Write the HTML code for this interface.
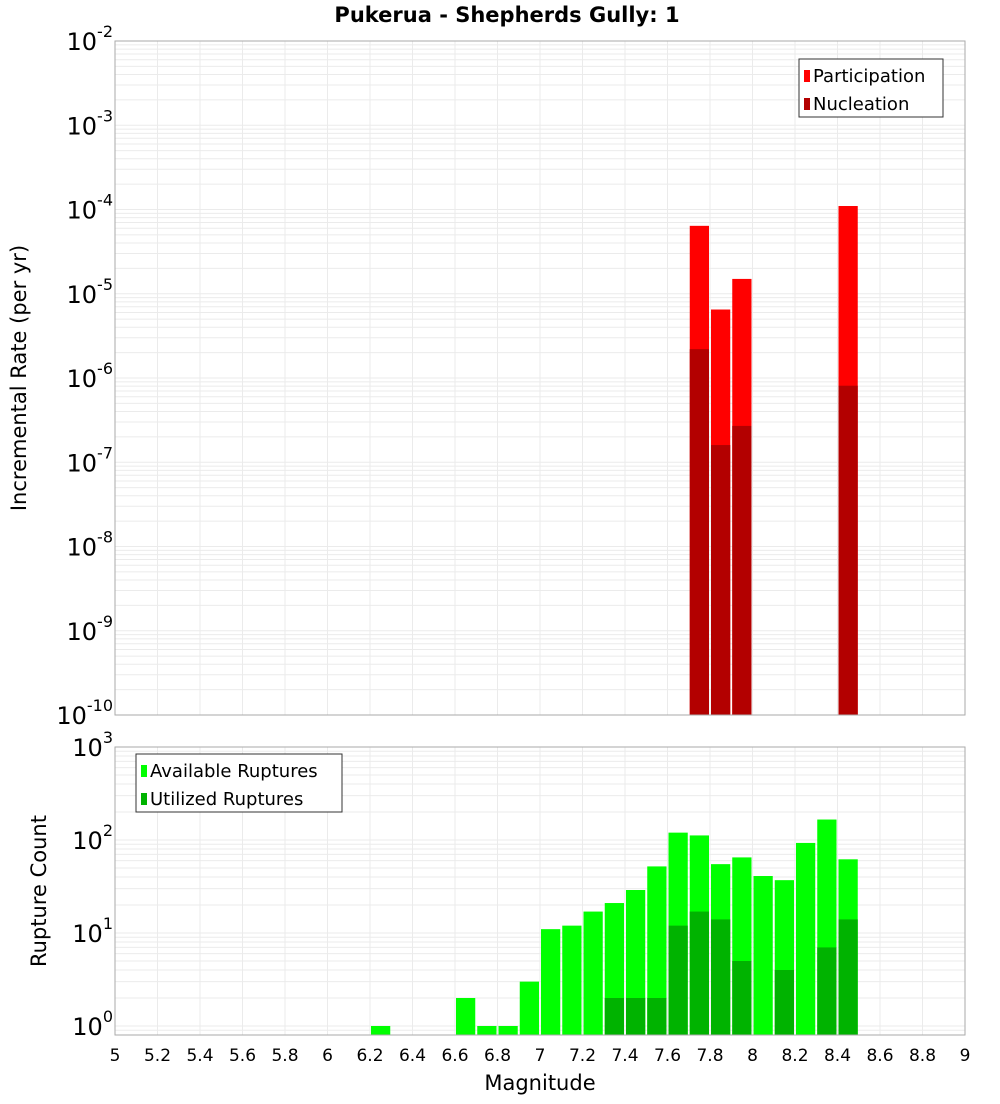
<!DOCTYPE html>
<html><head><meta charset="utf-8"><style>
body{margin:0;background:#fff;font-family:"DejaVu Sans","Liberation Sans",sans-serif}
svg text{font-family:"DejaVu Sans","Liberation Sans",sans-serif}
</style></head><body>
<svg id="c" width="1000" height="1100" xmlns="http://www.w3.org/2000/svg"></svg>
<script>
const mags=[6.2,6.3,6.4,6.5,6.6,6.7,6.8,6.9,7.0,7.1,7.2,7.3,7.4,7.5,7.6,7.7,7.8,7.9,8.0,8.1,8.2,8.3,8.4];
const topMags=[7.7,7.8,7.9,8.4];
const participation=[6.4e-5,6.5e-6,1.5e-5,1.1e-4];
const nucleation=[2.2e-6,1.6e-7,2.7e-7,8.1e-7];
const available=[1,0,0,0,2,1,1,3,11,12,17,21,29,52,120,112,55,65,41,37,93,166,62];
const utilized=[0,0,0,0,0,0,0,0,0,0,0,2,2,2,12,17,14,5,0,4,0,7,14];
const xTicks=["5","5.2","5.4","5.6","5.8","6","6.2","6.4","6.6","6.8","7","7.2","7.4","7.6","7.8","8","8.2","8.4","8.6","8.8","9"];
const topExps=[-2,-3,-4,-5,-6,-7,-8,-9,-10];
const botExps=[3,2,1,0];

const svg=document.getElementById('c');const NS='http://www.w3.org/2000/svg';
function el(t,a,p){const e=document.createElementNS(NS,t);for(const k in a)e.setAttribute(k,a[k]);(p||svg).appendChild(e);return e;}
const X0=115,X1=965;
const x=m=>X0+(m-5)/4*(X1-X0);
const T0=41,T1=715;const yT=v=>T0+(-2-Math.log10(v))*(T1-T0)/8;
const B0=747,B1=1035;const yB=v=>1026-Math.log10(v)*93;

function grid(y0,y1,yf,lo,hi,name){
  const g=el('g',{});
  for(let d=lo;d<hi;d++)for(let k=1;k<10;k++){const y=yf(k*Math.pow(10,d));if(y>=y0&&y<=y1)el('line',{x1:X0,x2:X1,y1:y,y2:y,stroke:'#ebebeb','stroke-width':1},g);}
  xTicks.forEach(t=>{const xx=x(+t);el('line',{x1:xx,x2:xx,y1:y0,y2:y1,stroke:'#ebebeb'},g);});
}
grid(T0,T1,yT,-10,-2,'top-grid');
grid(B0,B1,yB,-1,3,'bottom-grid');
const bw=x(5.1)-x(5);
topMags.forEach((m,i)=>{
  let r=el('rect',{x:x(m)+1,y:yT(participation[i]),width:bw-2,height:T1-yT(participation[i]),fill:'#ff0000'});
  
  r=el('rect',{x:x(m)+1,y:yT(nucleation[i]),width:bw-2,height:T1-yT(nucleation[i]),fill:'#b30000'});
  
});
mags.forEach((m,i)=>{
  if(available[i]>0){const r=el('rect',{x:x(m)+1,y:yB(available[i]),width:bw-2,height:B1-yB(available[i]),fill:'#00ff00'});
  }
  if(utilized[i]>0){const r=el('rect',{x:x(m)+1,y:yB(utilized[i]),width:bw-2,height:B1-yB(utilized[i]),fill:'#00b300'});
  }
});
el('rect',{x:X0,y:T0,width:X1-X0,height:T1-T0,fill:'none',stroke:'#aaa'});
el('rect',{x:X0,y:B0,width:X1-X0,height:B1-B0,fill:'none',stroke:'#aaa'});
function ylab(y,e,name){const t=el('text',{x:113,y:y+9,'text-anchor':'end','font-size':24});
  t.innerHTML='10<tspan font-size="16" dy="-13">'+e+'</tspan>';}
topExps.forEach(e=>ylab(yT(Math.pow(10,e)),e,'top-y-tick'));
botExps.forEach(e=>ylab(yB(Math.pow(10,e)),e,'bottom-y-tick'));
xTicks.forEach(t=>{const tt=el('text',{x:x(+t),y:1061,'text-anchor':'middle','font-size':17});tt.textContent=t;});
let t=el('text',{x:540,y:1090,'text-anchor':'middle','font-size':21});t.textContent='Magnitude';
t=el('text',{x:0,y:0,'text-anchor':'middle','font-size':21,transform:'translate(26,378) rotate(-90)'});t.textContent='Incremental Rate (per yr)';
t=el('text',{x:0,y:0,'text-anchor':'middle','font-size':21,transform:'translate(46,891) rotate(-90)'});t.textContent='Rupture Count';
t=el('text',{x:507,y:22,'text-anchor':'middle','font-size':21,'font-weight':'bold'});t.textContent='Pukerua - Shepherds Gully: 1';
function legend(lx,ly,w,items,name){const g=el('g',{});
  el('rect',{x:lx,y:ly,width:w,height:58,fill:'#fff',stroke:'#333'},g);
  items.forEach((it,i)=>{el('rect',{x:lx+5,y:ly+11+i*28,width:6,height:12,fill:it[1]},g);
    const tx=el('text',{x:lx+14,y:ly+23+i*28,'font-size':18},g);tx.textContent=it[0];});}
legend(799,59,144,[['Participation','#ff0000'],['Nucleation','#b30000']],'top-legend');
legend(136,754,206,[['Available Ruptures','#00ff00'],['Utilized Ruptures','#00b300']],'bottom-legend');
</script>
</body></html>
